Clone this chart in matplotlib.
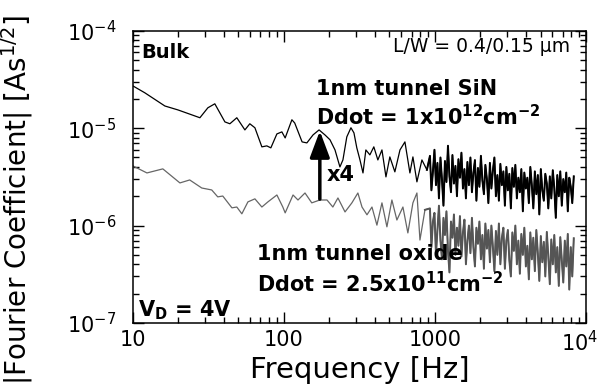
import matplotlib
matplotlib.use("Agg")
import matplotlib.pyplot as plt
import matplotlib.transforms as mtransforms
import numpy as np
from matplotlib.ticker import LogLocator, NullFormatter

plt.rcParams['font.family'] = ['DejaVu Sans']
plt.rcParams['mathtext.fontset'] = 'dejavusans'
plt.rcParams['mathtext.default'] = 'regular'

# 1nm tunnel SiN, low-frequency part (Hz, A s^1/2)
sin_f = [10, 12.0, 16.3, 19.9, 27.8, 31.4, 34.9, 40.7, 43.9, 48.8,
         55.2, 59.5, 64.3, 71.5, 77.1, 82.0, 89.9, 97.0, 102, 113,
         118, 132, 142, 156, 171, 187, 202, 218, 235, 246,
         261, 278, 291, 304, 319, 334, 349, 371, 394, 419,
         446, 474, 503, 543, 587, 633, 683, 715, 760, 820, 885]
sin_v = [2.72e-5, 2.31e-5, 1.69e-5, 1.54e-5, 1.28e-5, 1.62e-5, 1.78e-5, 1.16e-5, 1.11e-5, 1.28e-5,
         9.6e-6, 1.11e-5, 1.01e-5, 6.43e-6, 6.58e-6, 6.28e-6, 8.73e-6, 9.16e-6, 7.94e-6, 1.22e-5,
         1.13e-5, 7.23e-6, 7.06e-6, 8.53e-6, 9.6e-6, 8.53e-6, 7.6e-6, 5.98e-6, 4.0e-6, 4.72e-6,
         8.14e-6, 1.01e-5, 8.95e-6, 6.28e-6, 4.72e-6, 3.47e-6, 5.98e-6, 5.32e-6, 6.43e-6, 4.72e-6,
         5.98e-6, 3.16e-6, 5.07e-6, 3.56e-6, 5.98e-6, 7.23e-6, 3.47e-6, 5.07e-6, 2.81e-6, 4.72e-6, 3.73e-6]

# 1nm tunnel oxide, low-frequency part
ox_f = [10, 12.4, 15.8, 20.5, 23.8, 28.6, 33.3, 36.5, 39.4, 45.3,
        48.8, 52.7, 57.8, 64.3, 71.5, 78.4, 89.9, 98.4, 102, 115,
        124, 138, 153, 173, 193, 211, 228, 254, 282, 309,
        329, 355, 383, 413, 446, 481, 519, 560, 614, 662,
        715, 760, 796, 859]
ox_v = [4.1e-6, 3.47e-6, 3.82e-6, 2.74e-6, 2.94e-6, 2.43e-6, 2.32e-6, 1.97e-6, 2.01e-6, 1.52e-6,
        1.55e-6, 1.32e-6, 1.75e-6, 1.88e-6, 1.55e-6, 1.75e-6, 2.06e-6, 1.55e-6, 1.35e-6, 2.06e-6,
        1.83e-6, 2.16e-6, 1.71e-6, 1.83e-6, 1.83e-6, 1.55e-6, 1.92e-6, 1.38e-6, 1.71e-6, 2.16e-6,
        1.55e-6, 1.29e-6, 1.55e-6, 1.01e-6, 1.71e-6, 9.7e-7, 1.83e-6, 1.14e-6, 1.55e-6, 8.4e-7,
        1.71e-6, 2.16e-6, 7.1e-7, 1.45e-6]

# high-frequency (dense) part, shared frequency grid
hf_f = [927, 948, 970, 993, 1016, 1039, 1063, 1088, 1113, 1139,
        1165, 1192, 1220, 1248, 1277, 1306, 1336, 1367, 1399, 1431,
        1464, 1498, 1533, 1568, 1604, 1641, 1679, 1718, 1758, 1798,
        1840, 1882, 1926, 1970, 2016, 2062, 2110, 2158, 2208, 2259,
        2312, 2365, 2420, 2476, 2533, 2591, 2651, 2712, 2775, 2839,
        2905, 2972, 3040, 3110, 3182, 3256, 3331, 3408, 3487, 3567,
        3650, 3734, 3820, 3908, 3999, 4091, 4185, 4282, 4381, 4482,
        4586, 4692, 4800, 4911, 5024, 5140, 5259, 5381, 5505, 5632,
        5762, 5895, 6031, 6171, 6313, 6459, 6608, 6761, 6917, 7077,
        7240, 7407, 7578, 7753, 7932, 8115, 8303]
sin_hf = [5.2, 2.3, 3.6, 6.0, 2.6, 4.4, 1.9, 5.0, 3.0, 1.6,
          4.6, 2.8, 6.6, 3.2, 2.2, 5.3, 2.7, 4.1, 2.0, 4.8,
          3.1, 5.6, 2.4, 3.8, 1.9, 4.5, 2.6, 5.0, 2.2, 3.5,
          4.7, 1.8, 3.9, 2.5, 5.2, 2.9, 2.1, 4.2, 3.0, 1.7,
          4.4, 2.4, 3.7, 5.0, 2.0, 3.3, 1.8, 4.3, 2.6, 3.6,
          1.6, 4.0, 2.3, 3.4, 1.5, 3.9, 2.5, 4.2, 1.9, 3.1,
          2.2, 3.8, 1.4, 3.5, 2.4, 3.1, 1.7, 4.0, 2.6, 1.5,
          3.6, 2.1, 3.3, 1.3, 3.8, 2.3, 1.8, 3.4, 2.7, 1.5,
          3.2, 1.9, 3.7, 2.4, 1.2, 3.3, 2.0, 3.6, 1.6, 3.0,
          2.2, 3.5, 1.4, 3.1, 2.5, 1.7, 3.2]  # x1e-6
ox_hf = [1.5, 0.6, 1.1, 1.35, 0.5, 0.9, 1.6, 0.7, 0.45, 1.2,
         0.8, 1.4, 0.55, 0.33, 1.1, 0.75, 1.3, 0.5, 0.95, 0.62,
         1.25, 0.48, 0.85, 1.15, 0.4, 0.7, 1.0, 0.52, 1.2, 0.6,
         0.38, 0.95, 0.65, 1.1, 0.45, 0.8, 0.36, 1.05, 0.58, 0.9,
         0.42, 1.0, 0.6, 0.34, 0.88, 0.5, 1.05, 0.4, 0.75, 0.95,
         0.36, 0.7, 0.9, 0.44, 0.3, 0.85, 0.55, 1.0, 0.4, 0.7,
         0.32, 0.82, 0.5, 0.95, 0.38, 0.62, 0.28, 0.85, 0.45, 0.75,
         0.34, 0.9, 0.52, 0.27, 0.78, 0.42, 0.68, 0.3, 0.86, 0.48,
         0.25, 0.72, 0.4, 0.8, 0.33, 0.6, 0.24, 0.76, 0.44, 0.26,
         0.7, 0.38, 0.82, 0.22, 0.6, 0.3, 0.74]  # x1e-6

x_ticks = [10, 100, 1000, 10000]
x_ticklabels = ['10', '100', '1000', '$10^4$']

sin_x = np.array(sin_f + hf_f)
sin_y = np.concatenate([sin_v, np.array(sin_hf) * 1e-6])
ox_x = np.array(ox_f + hf_f)
ox_y = np.concatenate([ox_v, np.array(ox_hf) * 1e-6])
n_s = len(sin_f) - 1
n_o = len(ox_f) - 1

fig = plt.figure(figsize=(6.01, 3.90), dpi=100)
ax = fig.add_axes([0.221, 0.172, 0.754, 0.749])

ax.plot(ox_x, ox_y, color='#666666', lw=0.9)
ax.plot(ox_x[n_o:], ox_y[n_o:], color='#555555', lw=1.4)  # dense part looks heavier
ax.plot(sin_x, sin_y, color='black', lw=0.9)
ax.plot(sin_x[n_s:], sin_y[n_s:], color='black', lw=1.4)

ax.set_xscale('log')
ax.set_yscale('log')
ax.set_xlim(10, 1e4)
ax.set_ylim(1e-7, 1e-4)
ax.set_xticks(x_ticks)
ax.set_xticklabels(x_ticklabels)
ax.xaxis.set_minor_locator(LogLocator(base=10, subs=np.arange(2, 10)))
ax.yaxis.set_minor_locator(LogLocator(base=10, subs=np.arange(2, 10)))
ax.xaxis.set_minor_formatter(NullFormatter())
ax.yaxis.set_minor_formatter(NullFormatter())
ax.tick_params(which='both', direction='in', top=True, right=True, width=1.0)
ax.tick_params(which='major', length=8, labelsize=15)
ax.tick_params(axis='y', which='major', pad=12)
ax.tick_params(axis='x', which='major', pad=5)
ax.tick_params(which='minor', length=4.5)
for s in ax.spines.values():
    s.set_linewidth(1.1)

# shift the last x tick label left a bit so it stays inside the figure
lab = ax.get_xticklabels()[-1]
lab.set_transform(lab.get_transform() + mtransforms.ScaledTranslation(-6 / 100, 0, fig.dpi_scale_trans))

ax.set_xlabel('Frequency [Hz]', fontsize=21, labelpad=1)
fig.text(17 / 601, 0.487, '|Fourier Coefficient| [As$^{1/2}$]', fontsize=20,
         rotation=90, ha='center', va='center')

tf = ax.transAxes
ax.text(0.018, 0.925, 'Bulk', transform=tf, fontsize=14, fontweight='bold', va='center')
ax.text(0.965, 0.945, 'L/W = 0.4/0.15 µm', transform=tf, fontsize=13.5, ha='right', va='center')
ax.text(0.404, 0.801, '1nm tunnel SiN', transform=tf, fontsize=15, fontweight='bold', va='center')
ax.text(0.404, 0.705, r'Ddot = 1x10$^{\mathbf{12}}$cm$^{\mathbf{-2}}$', transform=tf,
        fontsize=15, fontweight='bold', va='center')
ax.text(0.428, 0.507, 'x4', transform=tf, fontsize=15, fontweight='bold', va='center')
ax.text(0.274, 0.236, '1nm tunnel oxide', transform=tf, fontsize=15, fontweight='bold', va='center')
ax.text(0.274, 0.134, r'Ddot = 2.5x10$^{\mathbf{11}}$cm$^{\mathbf{-2}}$', transform=tf,
        fontsize=15, fontweight='bold', va='center')
ax.text(0.011, 0.045, r'V$_{\mathbf{D}}$ = 4V', transform=tf, fontsize=15, fontweight='bold', va='center')

ax.annotate('', xy=(173, 1.0e-5), xytext=(173, 1.75e-6),
            arrowprops=dict(arrowstyle='-|>,head_length=1.6,head_width=0.6', lw=2.5, color='black'))

fig.savefig('out.png', dpi=100)
